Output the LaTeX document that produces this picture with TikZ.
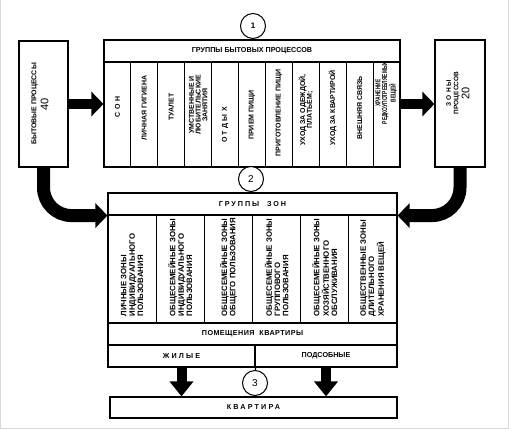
\documentclass[tikz,border=0pt]{standalone}
\usepackage{fontspec}
\setmainfont{Liberation Sans}
\usetikzlibrary{positioning}
\usetikzlibrary{arrows.meta}
\usetikzlibrary{calc}

\tikzset{
  cell/.style={draw, line width=1.1pt, inner sep=0pt},
  vtext/.style={rotate=90, align=center, inner sep=0pt, font=\bfseries\fontsize{7}{6.8}\selectfont},
  ztext/.style={rotate=90, align=left, anchor=west, inner sep=0pt, font=\bfseries\fontsize{7.8}{8.3}\selectfont},
  htext/.style={font=\bfseries\fontsize{7.2}{8}\selectfont},
  num/.style={draw, circle, line width=1pt, minimum size=25pt, inner sep=0pt, fill=white, font=\fontsize{10}{10}\selectfont},
  fat/.style={line width=10pt, -{Triangle[length=12pt,width=24pt]}},
}

\begin{document}
\begin{tikzpicture}[x=1pt, y=-1pt]
 \useasboundingbox (0,0) rectangle (509,429);
 \draw[black!15, line width=1pt] (0.5,0) -- (0.5,428.5) -- (508.5,428.5) -- (508.5,0);

 %level 1
 \node[cell, htext, minimum width=296pt, minimum height=22pt] (hdrA) at (252,51) {ГРУППЫ БЫТОВЫХ ПРОЦЕССОВ};
 \foreach \i/\yy/\txt in {1/107/{С\,\,О\,\,Н}, 2/108/{ЛИЧНАЯ ГИГИЕНА}, 3/107/{ТУАЛЕТ},
      4/105/{УМСТВЕННЫЕ И\\ЛЮБИТЕЛЬСКИЕ\\ЗАНЯТИЯ}, 5/125/{О\,\,Т\,\,Д\,\,Ы\,\,Х}, 6/115/{ПРИЕМ ПИЩИ},
      7/113/{ПРИГОТОВЛЕНИЕ ПИЩИ}, 8/110/{УХОД ЗА ОДЕЖДОЙ{,}\\ПЛАТЬЕМ;}, 9/108/{УХОД ЗА КВАРТИРОЙ},
      10/108/{ВНЕШНЯЯ СВЯЗЬ},
      11/93/{\scalebox{0.7}[1]{\begin{tabular}{@{}c@{}}ХРАНЕНИЕ\\РЕДКОУПОТРЕБЛЯЕМЫХ\\ВЕЩЕЙ\end{tabular}}}} {
   \node[cell, minimum width=26.91pt, minimum height=105pt] (P\i) at (104+\i*26.91-13.455, 114.5) {};
   \node[vtext] (Pt\i) at (104+\i*26.91-13.455, \yy) {\txt};
 }

 \node[cell, minimum width=49pt, minimum height=126pt] (bp) at (43.5,104) {};
 \node[vtext, font=\bfseries\fontsize{7}{8}\selectfont] (bpt) at (40,104) {БЫТОВЫЕ ПРОЦЕССЫ\\[2pt]{\mdseries\fontsize{11}{11}\selectfont 40}};

 \node[cell, minimum width=50pt, minimum height=127pt] (zp) at (460,103.5) {};
 \node[vtext, font=\bfseries\fontsize{6.5}{7.5}\selectfont] (zpt) at (458,93) {З\,\,О\,\,Н\,\,Ы\\ПРОЦЕССОВ\\[1pt]{\mdseries\fontsize{11}{11}\selectfont 20}};

 \node[num, font=\bfseries\fontsize{8}{8}\selectfont] (n1) at (253,26) {1};

 %arrows
 \draw[fat] (bp.east) -- (bp.east -| P1.west);
 \draw[fat] (P11.east |- bp.east) -- (zp.west |- bp.east);

 %level 2
 \node[num] (n2) at (251,179) {2};
 \node[cell, htext, minimum width=289pt, minimum height=22pt] (hdrB) at (252.5,204) {\addfontfeature{LetterSpace=27}ГРУППЫ\ \ ЗОН};
 \foreach \i/\txt in {1/{ЛИЧНЫЕ ЗОНЫ\\ИНДИВИДУАЛЬНОГО\\ПОЛЬЗОВАНИЯ}, 2/{ОБЩЕСЕМЕЙНЫЕ ЗОНЫ\\ИНДИВИДУАЛЬНОГО\\ПОЛЬЗОВАНИЯ},
      3/{ОБЩЕСЕМЕЙНЫЕ ЗОНЫ\\ОБЩЕГО ПОЛЬЗОВАНИЯ}, 4/{ОБЩЕСЕМЕЙНЫЕ ЗОНЫ\\ГРУППОВОГО\\ПОЛЬЗОВАНИЯ},
      5/{ОБЩЕСЕМЕЙНЫЕ ЗОНЫ\\ХОЗЯЙСТВЕННОГО\\ОБСЛУЖИВАНИЯ}, 6/{ОБЩЕСТВЕННЫЕ ЗОНЫ\\ДЛИТЕЛЬНОГО\\ХРАНЕНИЯ ВЕЩЕЙ}} {
   \node[cell, minimum width=48.17pt, minimum height=108pt] (Z\i) at (108+\i*48.17-24.08, 269) {};
   \node[ztext] (Zt\i) at (108+\i*48.17-24.08, 316.5) {\txt};
 }
 \node[cell, htext, minimum width=289pt, minimum height=22pt] (rooms) at (252.5,334) {\addfontfeature{LetterSpace=6}ПОМЕЩЕНИЯ\ \ КВАРТИРЫ};
 \node[cell, htext, minimum width=147pt, minimum height=22pt] (live) at (181.5,356) {\addfontfeature{LetterSpace=30}ЖИЛЫЕ};
 \node[cell, htext, minimum width=142pt, minimum height=22pt] (aux) at (326,356) {ПОДСОБНЫЕ};

 %level 3
 \node[num] (n3) at (255,383) {3};
 \draw[line width=1.1pt] (live.south east) -- (n3);
 \node[cell, htext, minimum width=287pt, minimum height=21pt] (flat) at (253.5,407.5) {\addfontfeature{LetterSpace=30}КВАРТИРА};

 \draw[fat, -{Triangle[length=15pt,width=23pt]}] (live.south) -- (live.south |- flat.north);
 \draw[fat, -{Triangle[length=15pt,width=23pt]}] (aux.south) -- (aux.south |- flat.north);

 %bends
 \draw[fat, line width=13pt, rounded corners=28pt] (bp.south) |- (hdrB.south west);
 \draw[fat, line width=13pt, rounded corners=28pt] (zp.south) |- (hdrB.south east);

\end{tikzpicture}
\end{document}
